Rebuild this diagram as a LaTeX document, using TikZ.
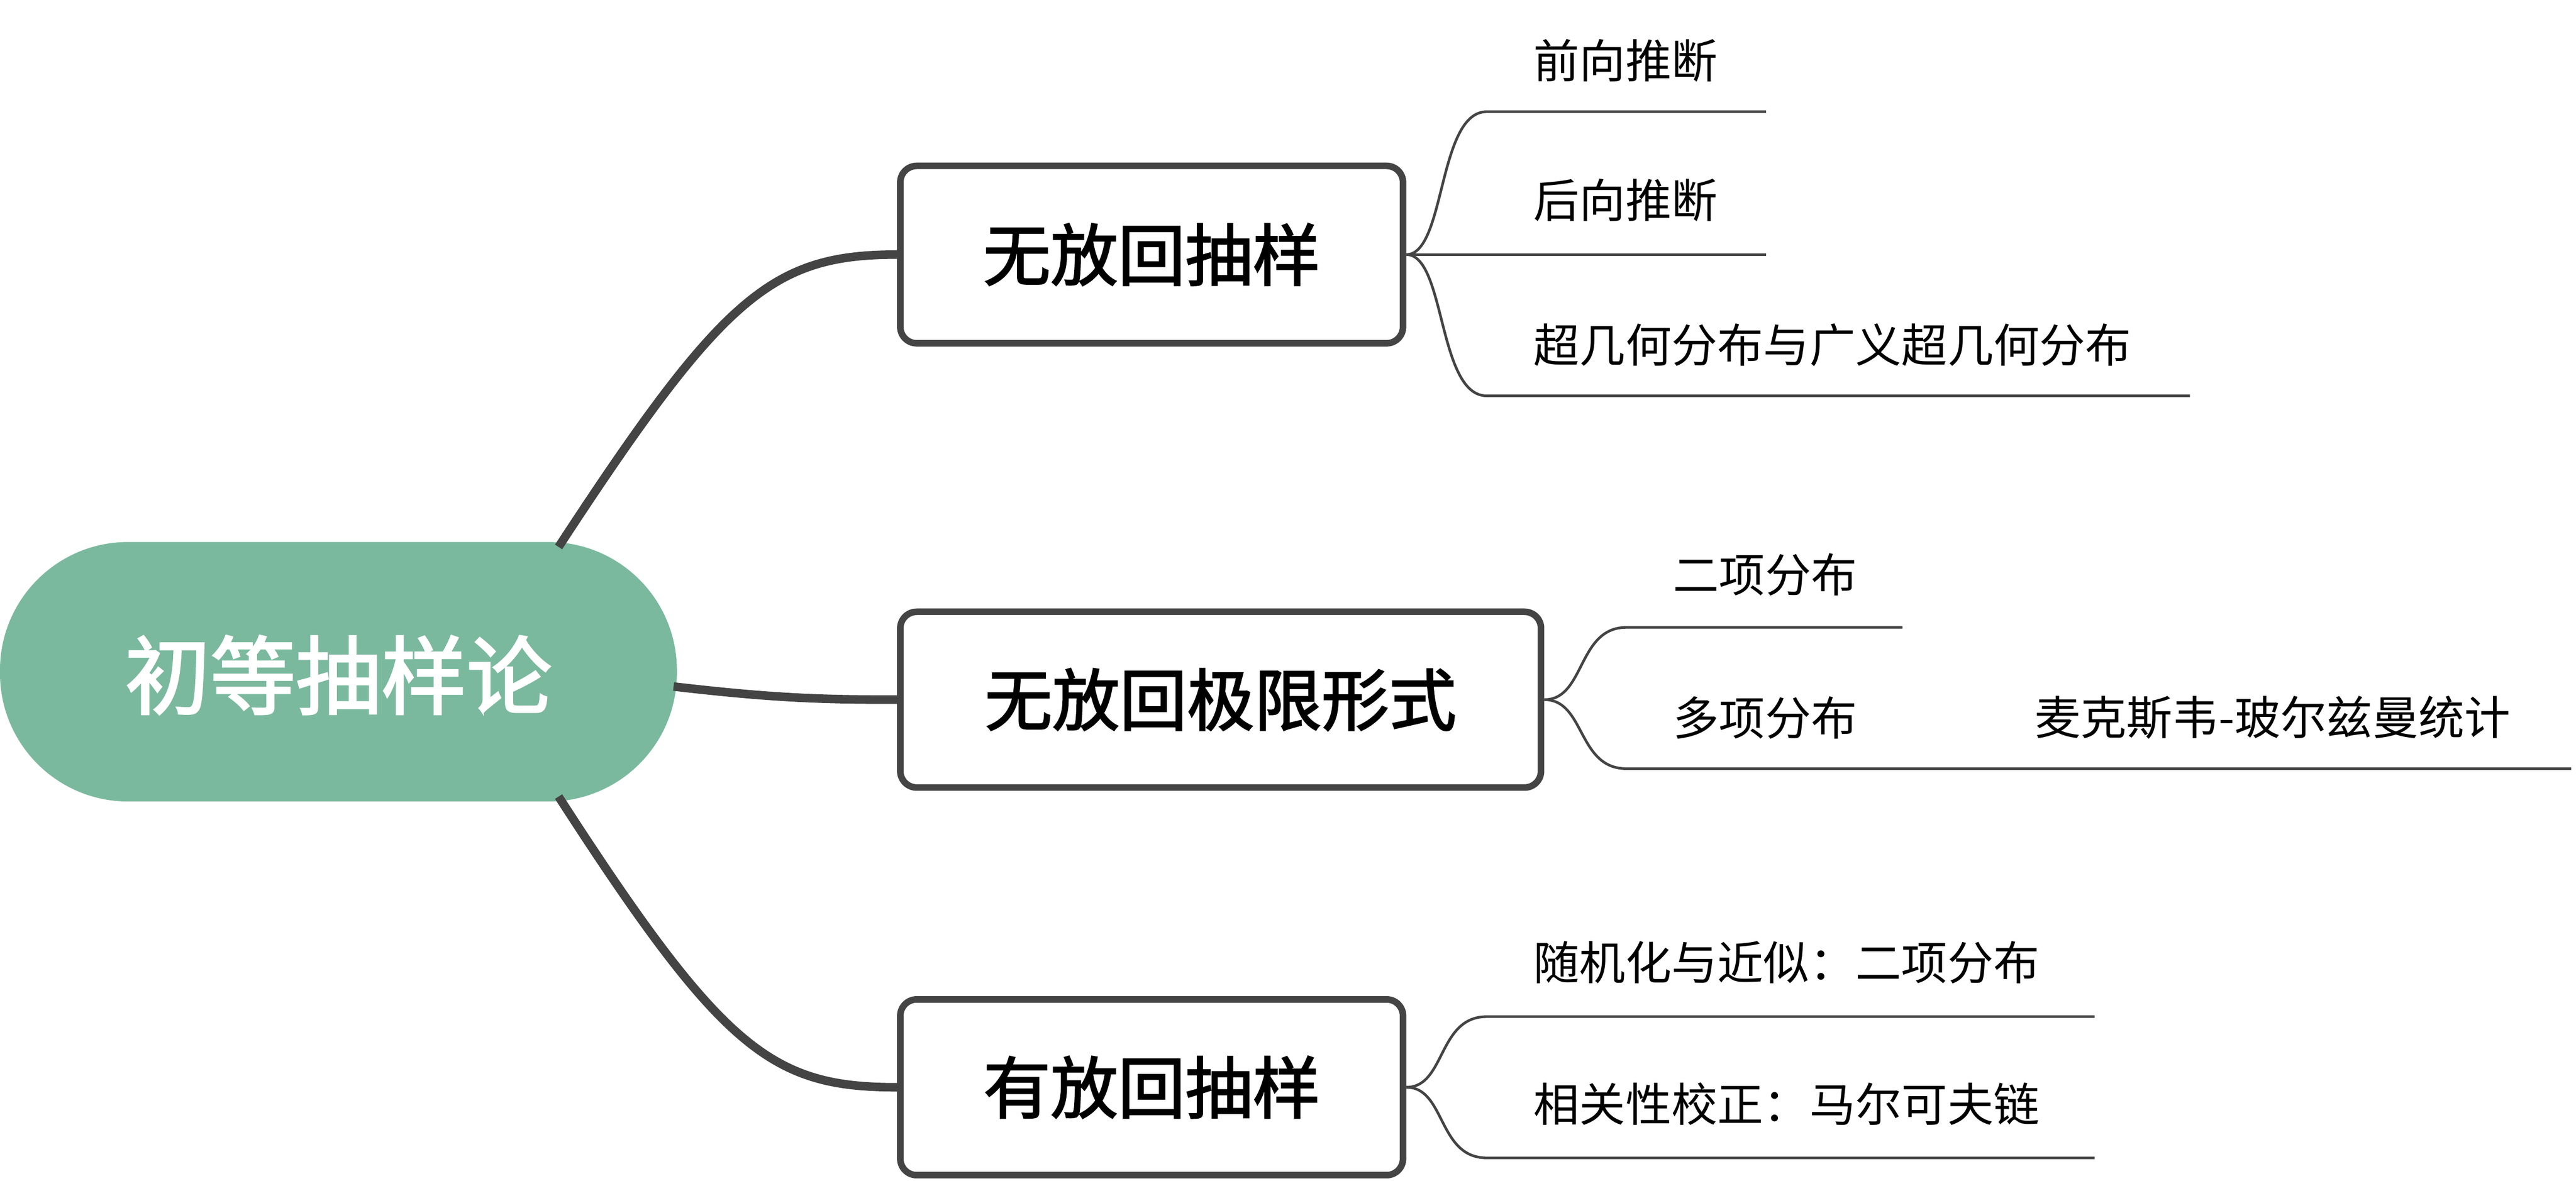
\documentclass[tikz,border=0pt]{standalone}
\usepackage{fontspec}
\newfontfamily\cjk[AutoFakeBold=2]{Noto Sans CJK SC}
\definecolor{rootc}{HTML}{7BB99E}
\definecolor{linec}{HTML}{444444}
\begin{document}
\begin{tikzpicture}[x=0.5pt,y=-0.5pt,
  box/.style={draw=linec,line width=2pt,rounded corners=5pt,fill=white,inner sep=0},
  main/.style={line width=2.6pt,draw=linec},
  thin/.style={line width=0.8pt,draw=linec},
  leaf/.style={anchor=west,font=\cjk\fontsize{14}{16}\selectfont,text=black,inner sep=0}]
\useasboundingbox (0,0) rectangle (1568,719);
\node[fill=rootc,rounded corners=39pt,minimum width=206pt,minimum height=79pt,inner sep=0] (root) at (206,409) {};
\node[font=\cjk\bfseries\fontsize{26}{30}\selectfont,text=white] (rt) at (206,411) {初等抽样论};
\node[box,minimum width=153pt,minimum height=54pt] (b1) at (701,155) {};
\node[font=\cjk\bfseries\fontsize{20.5}{24}\selectfont] at (b1) {无放回抽样};
\node[box,minimum width=195pt,minimum height=53.5pt] (b2) at (743,426) {};
\node[font=\cjk\bfseries\fontsize{20.5}{24}\selectfont] at (b2) {无放回极限形式};
\node[box,minimum width=153pt,minimum height=53.5pt] (b3) at (701,662) {};
\node[font=\cjk\bfseries\fontsize{20.5}{24}\selectfont] at (b3) {有放回抽样};
\coordinate (r1) at (340,333); \coordinate (r2) at (410,418); \coordinate (r3) at (340,485);
\draw[main] (r1) .. controls (440,180) and (470,155) .. (b1.west);
\draw[main] (r2) .. controls (470,425) and (500,426) .. (b2.west);
\draw[main] (r3) .. controls (440,640) and (470,662) .. (b3.west);
% box1 leaves
\coordinate (a1) at (905,68); \coordinate (a1e) at (1075,68);
\coordinate (a2) at (905,155); \coordinate (a2e) at (1075,155);
\coordinate (a3) at (905,241); \coordinate (a3e) at (1333,241);
\draw[thin] (b1.east) .. controls (880,155) and (875,68) .. (a1) -- (a1e);
\draw[thin] (b1.east) -- (a2e);
\draw[thin] (b1.east) .. controls (880,155) and (875,241) .. (a3) -- (a3e);
\node[leaf] (t1) at (933,37) {前向推断};
\node[leaf] (t2) at (933,122) {后向推断};
\node[leaf] (t3) at (933,210) {超几何分布与广义超几何分布};
% box2 leaves
\coordinate (c1) at (990,382); \coordinate (c1e) at (1158,382);
\coordinate (c2) at (990,468); \coordinate (c2e) at (1160,468); \coordinate (c3e) at (1565,468);
\draw[thin] (b2.east) .. controls (965,426) and (960,382) .. (c1) -- (c1e);
\draw[thin] (b2.east) .. controls (965,426) and (960,468) .. (c2) -- (c2e) -- (c3e);
\node[leaf] (u1) at (1018,350) {二项分布};
\node[leaf] (u2) at (1018,437) {多项分布};
\node[leaf] (u3) at (1238,437) {麦克斯韦-玻尔兹曼统计};
% box3 leaves
\coordinate (d1) at (905,619); \coordinate (d1e) at (1275,619);
\coordinate (d2) at (905,705); \coordinate (d2e) at (1275,705);
\draw[thin] (b3.east) .. controls (880,662) and (875,619) .. (d1) -- (d1e);
\draw[thin] (b3.east) .. controls (880,662) and (875,705) .. (d2) -- (d2e);
\node[leaf] (v1) at (933,586) {随机化与近似：二项分布};
\node[leaf] (v2) at (933,672) {相关性校正：马尔可夫链};
\end{tikzpicture}
\end{document}
